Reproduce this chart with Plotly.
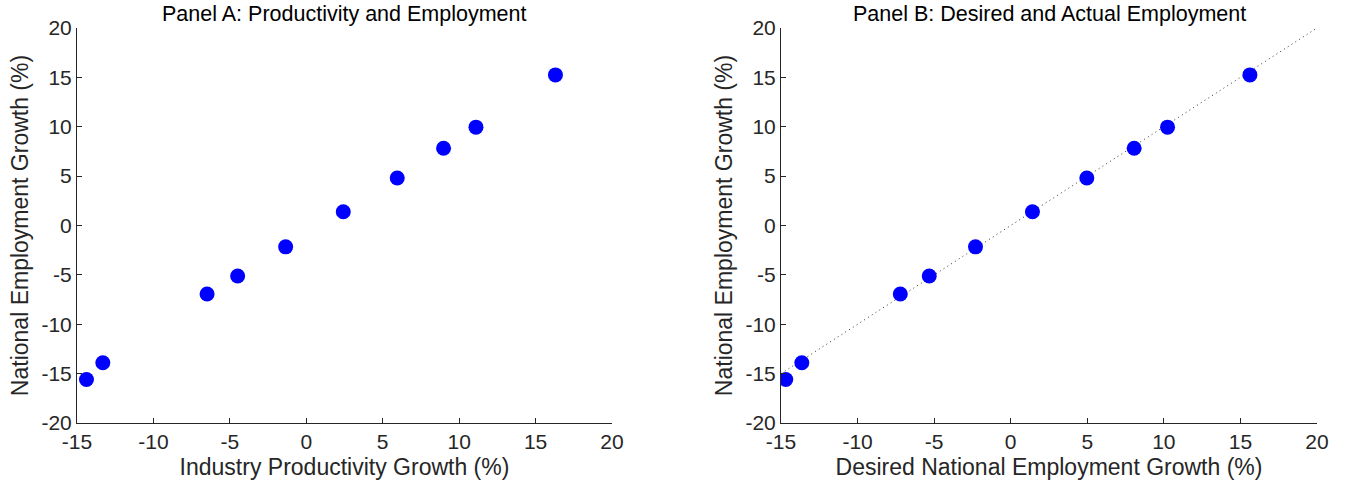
import plotly.graph_objects as go
from plotly.subplots import make_subplots

# Data
productivity_growth = [-14.38, -13.31, -6.49, -4.49, -1.35, 2.42, 5.95, 8.98, 11.1, 16.3]
employment_growth = [-15.6, -13.9, -6.94, -5.12, -2.16, 1.39, 4.81, 7.83, 9.96, 15.25]
desired_growth = [-14.69, -13.64, -7.21, -5.32, -2.3, 1.42, 4.97, 8.06, 10.24, 15.62]
ref_line = [-15, 20]
y_tick_vals = [-20, -15, -10, -5, 0, 5, 10, 15, 20]
x_tick_vals = [-15, -10, -5, 0, 5, 10, 15, 20]
y_tick_text = ["-20", "-15", "-10", "-5", "0", "5", "10", "15", "20"]
x_tick_text = ["-15", "-10", "-5", "0", "5", "10", "15", "20"]

FONT = "Liberation Sans Narrow, Arial Narrow, Liberation Sans, sans-serif"
AX = "#262626"

fig = make_subplots(rows=1, cols=2, horizontal_spacing=0.1)

fig.add_trace(go.Scatter(x=productivity_growth, y=employment_growth, mode="markers",
                         marker=dict(color="#0000FF", size=15), showlegend=False),
              row=1, col=1)
fig.add_trace(go.Scatter(x=ref_line, y=ref_line, mode="lines",
                         line=dict(color="#333333", width=1, dash="1px,3.5px"), showlegend=False),
              row=1, col=2)
fig.add_trace(go.Scatter(x=desired_growth, y=employment_growth, mode="markers",
                         marker=dict(color="#0000FF", size=15), showlegend=False),
              row=1, col=2)

W, H = 1356, 490
T, B = 28, 423
axis_common = dict(showgrid=False, zeroline=False, showline=True, linecolor=AX, linewidth=1,
                   ticks="inside", ticklen=5, tickcolor=AX, mirror=False, automargin=False,
                   tickfont=dict(family=FONT, size=21, color=AX))

fig.update_xaxes(range=[-15, 20], tickvals=x_tick_vals, ticktext=x_tick_text, **axis_common)
fig.update_yaxes(range=[-20, 20], tickvals=y_tick_vals, ticktext=y_tick_text, **axis_common)

TITLE_FONT = dict(family=FONT, size=23, color=AX)
a0, a1 = 77 / W, 612 / W
b0, b1 = 781 / W, 1317 / W
title_y = (B - 14) / (B - T)
fig.update_layout(
    xaxis=dict(domain=[a0, a1],
               title=dict(text="Industry Productivity Growth (%)", standoff=6, font=TITLE_FONT)),
    xaxis2=dict(domain=[b0, b1],
                title=dict(text="Desired National Employment Growth (%)", standoff=6, font=TITLE_FONT)),
    yaxis=dict(title=dict(text="National Employment Growth (%)", standoff=6, font=TITLE_FONT)),
    yaxis2=dict(title=dict(text="National Employment Growth (%)", standoff=6, font=TITLE_FONT)),
    width=W, height=H,
    margin=dict(l=0, r=0, t=T, b=H - B),
    plot_bgcolor="white", paper_bgcolor="white",
    annotations=[
        dict(text="Panel A: Productivity and Employment", x=(a0 + a1) / 2, y=title_y,
             xref="paper", yref="paper", xanchor="center", yanchor="middle", showarrow=False,
             font=dict(family=FONT, size=21.5, color="black")),
        dict(text="Panel B: Desired and Actual Employment", x=(b0 + b1) / 2, y=title_y,
             xref="paper", yref="paper", xanchor="center", yanchor="middle", showarrow=False,
             font=dict(family=FONT, size=21.5, color="black")),
    ],
)

fig.write_html("out.html", config={"displayModeBar": False},
               post_script="document.body.style.margin='0';")
